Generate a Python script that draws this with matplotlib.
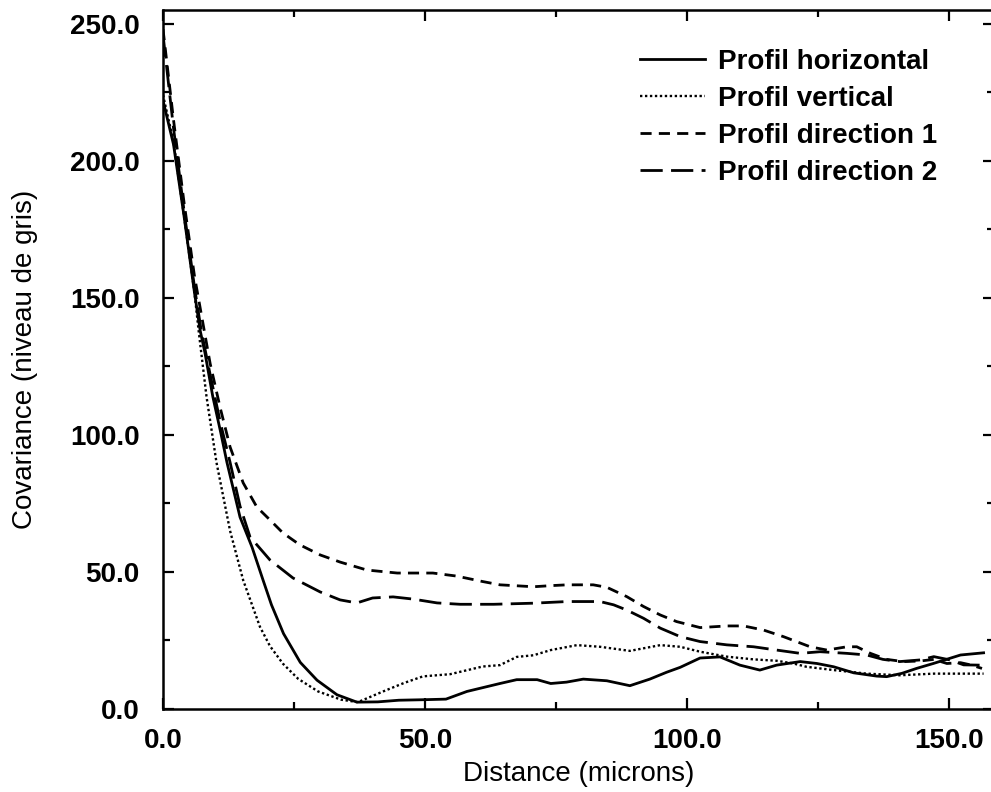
import matplotlib
matplotlib.use("Agg")
import matplotlib.pyplot as plt
from matplotlib.ticker import MultipleLocator, FormatStrFormatter

# ---- data ----
h_x = [0, 2, 4, 6, 7.1, 8, 9.5, 11, 12.2, 14.7, 17, 19.1, 20.7, 23, 26.2, 29.4, 33.2, 37, 41, 45, 50, 54,
       58, 64.3, 67.5, 71.4, 74, 77, 80.2, 84.7, 89.1, 92.9, 96.1, 98.7, 102.5, 106.3, 110.1, 113.9,
       117.1, 121.6, 124.8, 128, 131.8, 136.2, 138.1, 141, 143.8, 147, 152.2, 156.6]
h_y = [222, 206, 180, 152, 138, 130, 114, 101, 90, 70, 59, 47, 38, 27.5, 17, 10.5, 5.2, 2.5, 2.6, 3.2, 3.4, 3.6,
       6.4, 9.3, 10.7, 10.7, 9.3, 9.8, 10.9, 10.3, 8.5, 10.9, 13.4, 15.2, 18.6, 19.0, 16.0, 14.2,
       16.0, 17.3, 16.6, 15.4, 13.2, 12.0, 11.8, 13.0, 14.8, 16.6, 19.7, 20.5]

v_x = [0, 2, 4, 6, 6.8, 8.3, 10.2, 12.8, 15.3, 18.5, 20.4, 22.9, 25.8, 29.6, 34, 37.2, 42, 46, 49.6,
       54.8, 61, 64.3, 67.5, 70.7, 74, 79, 83.4, 89.1, 94.9, 98.7, 102.5, 107.6, 112.7, 117.1, 120.3,
       122.8, 125.4, 128, 134.3, 140.6, 147.1, 156.6]
v_y = [224, 207, 180, 152, 138, 114, 90, 65, 47, 30, 23, 16.5, 11, 6.4, 3.4, 2.5, 6.4, 9.5, 11.9,
       12.7, 15.5, 16.0, 19.0, 19.6, 21.5, 23.3, 22.7, 21.2, 23.3, 22.7, 20.9, 19.1, 18.1, 17.6, 16.6,
       15.4, 14.8, 14.2, 12.9, 12.3, 12.9, 12.9]

d1_x = [0, 2, 4, 6, 7.5, 9, 10.9, 12.8, 15.3, 17.9, 20.4, 22.9, 26.1, 30, 33.8, 38.9, 44.7, 51.5, 56, 61,
        64.3, 70.7, 74, 77.1, 82.1, 84.7, 88.5, 91.7, 94.9, 98, 102.5, 107.6, 110.8, 114.6, 118.4, 123.5,
        126.7, 130.5, 132.4, 135, 138.1, 141.3, 144.5, 147.1, 149.6, 152.2, 154.1, 156.3]
d1_y = [248, 215, 185, 158, 142, 126, 110, 95.6, 82.5, 73.7, 69, 64.2, 59.9, 56.2, 53.6, 50.7, 49.6, 49.6,
        48.5, 46.5, 45.3, 44.6, 45.0, 45.3, 45.3, 44.4, 41.0, 37.4, 34.3, 31.9, 29.7, 30.3, 30.3, 28.8,
        26.4, 22.7, 21.5, 22.7, 22.7, 20.3, 18.1, 17.3, 17.5, 18.1, 16.6, 16.9, 16.1, 14.8]

d2_x = [0, 2, 4, 6, 7.3, 9, 11, 12.8, 14.7, 16.6, 20.4, 24.8, 30, 33.8, 37, 40, 43.9, 47.7, 52.3, 56.7,
        63.1, 70.7, 77.1, 83.4, 86, 88.5, 91.7, 94.9, 98.7, 102.5, 107.6, 112.7, 117.1, 121.6, 125.4,
        130.5, 134.3, 137.4, 140.6, 144.5, 147.1, 150.2, 152.8, 156]
d2_y = [246, 212, 182, 154, 138, 122, 104, 90, 74, 62.8, 54.4, 47.8, 42.7, 39.8, 38.7, 40.5, 40.9, 40.1,
        38.7, 38.2, 38.2, 38.6, 39.2, 39.2, 38.0, 36.1, 33.1, 29.5, 26.4, 24.6, 23.4, 22.7, 21.5, 20.3,
        20.9, 20.3, 19.7, 18.1, 17.3, 17.9, 19.1, 17.9, 16.1, 16.0]

labels = ["Profil horizontal", "Profil vertical", "Profil direction 1", "Profil direction 2"]
x_ticks = [0, 50, 100, 150]
y_ticks = [0, 50, 100, 150, 200, 250]

plt.rcParams['font.family'] = ['Liberation Sans', 'DejaVu Sans']
FS = 20

fig = plt.figure(figsize=(9.91, 7.92), dpi=100)
W, H = 991, 792
L, R, B, T = 163, 994, 709, 10
ax = fig.add_axes([L / W, 1 - B / H, (R - L) / W, (B - T) / H])

k = 'black'
ax.plot(h_x, h_y, color=k, lw=2.0, ls='-', label=labels[0])
ax.plot(v_x, v_y, color=k, lw=1.7, ls=(0, (1, 1.1)), label=labels[1])
ax.plot(d1_x, d1_y, color=k, lw=2.0, ls=(0, (4.0, 2.6)), label=labels[2])
ax.plot(d2_x, d2_y, color=k, lw=2.0, ls=(0, (8.0, 3.0)), label=labels[3])

ax.set_xlim(0, (R - L) / 5.24)
ax.set_ylim(0, 255)
ax.set_xticks(x_ticks)
ax.set_yticks(y_ticks)
ax.xaxis.set_minor_locator(MultipleLocator(25))
ax.yaxis.set_minor_locator(MultipleLocator(25))
ax.xaxis.set_major_formatter(FormatStrFormatter('%.1f'))
ax.yaxis.set_major_formatter(FormatStrFormatter('%.1f'))
ax.tick_params(which='both', direction='in', top=True, right=True, width=1.6, colors=k)
ax.tick_params(which='major', length=8)
ax.tick_params(which='minor', length=5)
ax.tick_params(axis='x', which='major', labelsize=FS, pad=14)
ax.tick_params(axis='y', which='major', labelsize=FS, pad=17)
for lab in ax.get_xticklabels() + ax.get_yticklabels():
    lab.set_fontweight('bold')
for s in ax.spines.values():
    s.set_linewidth(1.8)

ax.set_xlabel("Distance (microns)", fontsize=20)
ax.set_ylabel("Covariance (niveau de gris)", fontsize=20)
ax.xaxis.set_label_coords(0.5, -0.074)
ax.yaxis.set_label_coords(-0.150, 0.5)

leg = ax.legend(loc='upper left', bbox_to_anchor=(640 / W, 1 - 49 / H), bbox_transform=fig.transFigure,
                frameon=False, prop={'size': FS, 'weight': 'bold'}, handlelength=2.34, handletextpad=0.47,
                labelspacing=0.39, borderpad=0, borderaxespad=0)

fig.savefig("out.png", dpi=100)
